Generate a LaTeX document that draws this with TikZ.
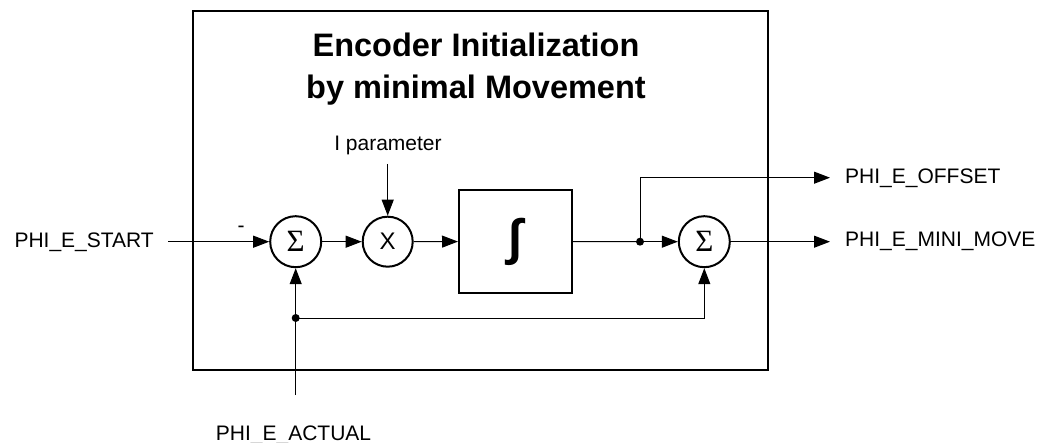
\documentclass[tikz,border=0pt]{standalone}
\usepackage{fontspec}
\setmainfont{Liberation Sans}
\newfontfamily\sigmafont{Liberation Serif}
\usetikzlibrary{arrows.meta}

\begin{document}
\begin{tikzpicture}[x=1pt,y=-1pt,
  sumnode/.style={circle,draw,line width=2pt,minimum size=51pt,inner sep=0pt,font=\sigmafont\fontsize{31}{34}\selectfont},
  signal/.style={line width=1pt},
  arrowline/.style={signal,-{Triangle[length=16pt,width=12pt]}},
  sigtext/.style={font=\fontsize{21}{25}\selectfont,inner sep=0pt},
  junction/.style={circle,fill,inner sep=0pt,minimum size=8pt}]
  \useasboundingbox (0,0) rectangle (1043,443);
  % draw outer box
  \node at(480.5,190.5)[draw,line width=2pt,minimum width=575pt,minimum height=359pt](initbox){};
  % draw title
  \node at(476,33)[anchor=north,align=center,inner sep=0pt,font=\bfseries\fontsize{32.5}{42}\selectfont](title){Encoder Initialization\\by minimal Movement};
  % draw summing points, gain and integrator
  \node at(295.7,241.7)[sumnode](sumstart){Σ};
  \node at(387.7,241.7)[circle,draw,line width=2pt,minimum size=50pt,inner sep=0pt,font=\fontsize{24}{28}\selectfont](gain){X};
  \node at(515.5,241.5)[draw,line width=2pt,minimum width=113pt,minimum height=103pt,font=\bfseries\fontsize{50}{60}\selectfont](integrator){∫};
  \node at(704.3,241.7)[sumnode](summove){Σ};
  % draw junction dots
  \node at(640,241.7)[junction](split){};
  \node at(295.7,318)[junction](tap){};
  % draw signal names
  \node at(154,247.5)[sigtext,anchor=base east](start){PHI\_E\_START};
  \node at(293.5,440)[sigtext,anchor=base](actual){PHI\_E\_ACTUAL};
  \node at(845,184)[sigtext,anchor=base west](offset){PHI\_E\_OFFSET};
  \node at(845,247)[sigtext,anchor=base west](minimove){PHI\_E\_MINI\_MOVE};
  \node at(388,150.7)[sigtext,anchor=base](iparam){I parameter};
  \node at(241,229)[sigtext](minus){-};
  % free ends of the signal lines
  \coordinate (startend) at (168,241.7);
  \coordinate (actualend) at (295.7,395);
  \coordinate (iparamend) at (387.7,164);
  \coordinate (offsetend) at (830,177.7);
  \coordinate (moveend) at (830,241.7);
  % draw signal lines
  \draw [arrowline](startend) -- (sumstart);
  \draw [arrowline](actualend) -- (sumstart);
  \draw [arrowline](sumstart) -- (gain);
  \draw [arrowline](iparamend) -- (gain);
  \draw [arrowline](gain) -- (integrator);
  \draw [signal](integrator) -- (split);
  \draw [arrowline](split) -- (summove);
  \draw [arrowline](split.center) |- (offsetend);
  \draw [arrowline](tap.center) -| (summove);
  \draw [arrowline](summove) -- (moveend);
\end{tikzpicture}
\end{document}
